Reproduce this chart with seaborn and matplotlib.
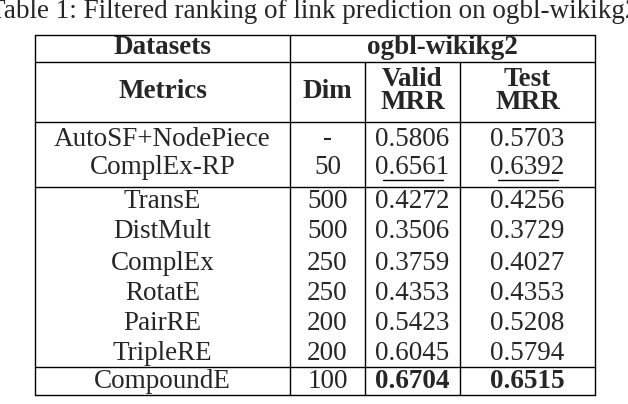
import matplotlib
matplotlib.use("Agg")
import matplotlib.pyplot as plt
import seaborn as sns

sns.set_theme(style="white")
plt.rcParams['font.family'] = ['Liberation Serif', 'DejaVu Serif']

methods = ["AutoSF+NodePiece", "ComplEx-RP", "TransE", "DistMult", "ComplEx",
           "RotatE", "PairRE", "TripleRE", "CompoundE"]
dims = ["-", "50", "500", "500", "250", "250", "200", "200", "100"]
valid_mrr = ["0.5806", "0.6561", "0.4272", "0.3506", "0.3759", "0.4353", "0.5423", "0.6045", "0.6704"]
test_mrr = ["0.5703", "0.6392", "0.4256", "0.3729", "0.4027", "0.4353", "0.5208", "0.5794", "0.6515"]
underline_idx = [1]
bold_idx = [8]

fig = plt.figure(figsize=(6.28, 4.04), dpi=100)
ax = fig.add_axes([0, 0, 1, 1])
ax.set_xlim(0, 628)
ax.set_ylim(404, 0)
ax.axis("off")

fs = 19.5
ax.text(314, 12, "Table 1: Filtered ranking of link prediction on ogbl-wikikg2",
        ha="center", va="center", fontsize=fs)

L, R = 35, 595
c1, c2, c3 = 290, 365, 460
lw = 1.0
for y in [35, 62, 122, 187, 367, 395]:
    ax.plot([L, R], [y, y], color="black", lw=lw)
for x in [L, c1, R]:
    ax.plot([x, x], [35, 395], color="black", lw=lw)
for x in [c2, c3]:
    ax.plot([x, x], [62, 395], color="black", lw=lw)

ax.text((L + c1) / 2, 48, "Datasets", ha="center", va="center", fontsize=fs, weight="bold")
ax.text((c1 + R) / 2, 48, "ogbl-wikikg2", ha="center", va="center", fontsize=fs, weight="bold")
ax.text((L + c1) / 2, 92, "Metrics", ha="center", va="center", fontsize=fs, weight="bold")
ax.text((c1 + c2) / 2, 92, "Dim", ha="center", va="center", fontsize=fs, weight="bold")
ax.text((c2 + c3) / 2, 91, "Valid\nMRR", ha="center", va="center", fontsize=fs, weight="bold", linespacing=0.85)
ax.text((c3 + R) / 2, 91, "Test\nMRR", ha="center", va="center", fontsize=fs, weight="bold", linespacing=0.85)

ys = [139, 168, 201, 232, 263, 294, 324, 354, 382]
for i, y in enumerate(ys):
    w = "bold" if i in bold_idx else "normal"
    ax.text((L + c1) / 2, y, methods[i], ha="center", va="center", fontsize=fs)
    ax.text((c1 + c2) / 2, y, dims[i], ha="center", va="center", fontsize=fs)
    ax.text((c2 + c3) / 2, y, valid_mrr[i], ha="center", va="center", fontsize=fs, weight=w)
    ax.text((c3 + R) / 2, y, test_mrr[i], ha="center", va="center", fontsize=fs, weight=w)
    if i in underline_idx:
        for cx in [(c2 + c3) / 2, (c3 + R) / 2]:
            ax.plot([cx - 30, cx + 30], [y + 12, y + 12], color="black", lw=1)

fig.savefig("out.png", dpi=100)
